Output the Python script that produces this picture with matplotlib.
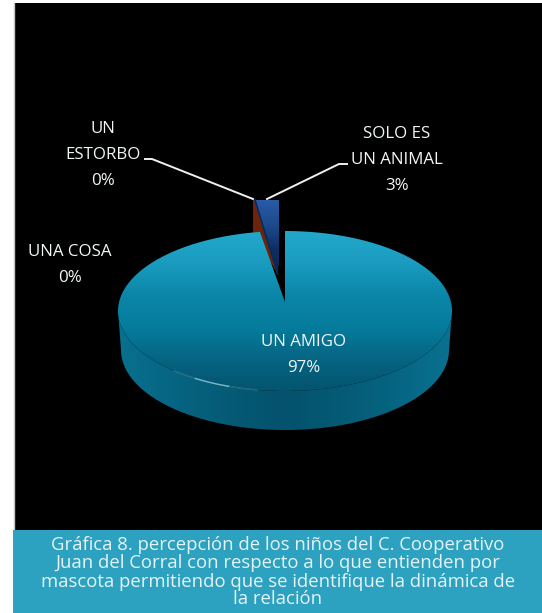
import numpy as np
import matplotlib
matplotlib.use("Agg")
import matplotlib.pyplot as plt
from matplotlib.colors import LinearSegmentedColormap
from matplotlib.patches import Polygon, Rectangle

W, H = 542, 613
FONT = "Open Sans"
FG = "#f2f6f7"
BANNER = "#2ca2c0"

# --- data -------------------------------------------------------------------
categories = ["UN AMIGO", "SOLO ES\nUN ANIMAL", "UN\nESTORBO", "UNA COSA"]
percent_labels = ["97%", "3%", "0%", "0%"]
# share of the circle each slice really takes up in the drawing
amigo_share = 97.6
animal_share = 2.4

caption_lines = [
    "Gráfica 8. percepción de los niños del C. Cooperativo",
    "Juan del Corral con respecto a lo que entienden por",
    "mascota permitiendo que se identifique la dinámica de",
    "la relación",
]

# --- pie geometry, in pixels -------------------------------------------------
CX, CY, RX, RY = 285, 311, 167, 80
APEX_Y = 302
DEPTH = 39
SMALL_APEX = (277.5, 274)   # where the pulled out slices meet
SMALL_TOP = 200


def rim(share_from, share_to, cx=CX, cy=CY, rx=RX, ry=RY, n=400):
    # shares run clockwise from 12 o'clock
    t = np.radians(np.linspace(share_from, share_to, n) * 3.6)
    return np.column_stack([cx + rx * np.sin(t), cy - ry * np.cos(t)])


def ray(apex, share, length=400):
    t = np.radians(share * 3.6)
    return (apex[0] + RX / 167 * length * np.sin(t),
            apex[1] - RY / 167 * length * np.cos(t))


fig = plt.figure(figsize=(W / 100, H / 100), dpi=100, facecolor="white")
ax = fig.add_axes([0, 0, 1, 1])
ax.set_xlim(0, W)
ax.set_ylim(H, 0)
ax.axis("off")

ax.add_patch(Rectangle((14, 3), W - 14, 527, fc="black", ec="none", zorder=1))
ax.plot([13.5, 13.5], [3, 530], color="#c4c4c4", lw=1, zorder=1)
ax.add_patch(Rectangle((13, 530), W - 13, H - 530, fc=BANNER, ec="none", zorder=1))

# side wall: dark middle, a bit lighter towards the two ends
side_cmap = LinearSegmentedColormap.from_list(
    "side", ["#09708e", "#066582", "#055a75", "#04526d", "#055a75", "#066582", "#097290"])
low = rim(25, 75, cy=CY + DEPTH, rx=RX - 3)
up = rim(75, 25)
side_poly = Polygon(np.vstack([up, low]), closed=True, fc="none", ec="none",
                    transform=ax.transData)
ax.add_patch(side_poly)
im = ax.imshow(np.linspace(0, 1, 256)[None, :], cmap=side_cmap, aspect="auto",
               extent=[CX - RX, CX + RX, CY + RY + DEPTH, CY], zorder=2)
im.set_clip_path(side_poly)

# red slice sits behind the blue one, its wall is the flat block on the left
red = Polygon([SMALL_APEX, (253, 232), (253, SMALL_TOP), (258, SMALL_TOP)],
              closed=True, fc="#6e2408", ec="none", zorder=3)
ax.add_patch(red)

# blue slice, gradient from light at the top to navy at the apex
blue_cmap = LinearSegmentedColormap.from_list("blue", ["#2a5aa8", "#1d4a8c", "#0e2f66", "#0a2350"])
blue_left = ray(SMALL_APEX, 100 - animal_share)
slope = (blue_left[0] - SMALL_APEX[0]) / (blue_left[1] - SMALL_APEX[1])
blue_top_x = SMALL_APEX[0] + slope * (SMALL_TOP - SMALL_APEX[1])
blue_poly = Polygon([SMALL_APEX, (blue_top_x, SMALL_TOP), (279, SMALL_TOP), (279, 263)],
                    closed=True, fc="none", ec="none")
ax.add_patch(blue_poly)
im = ax.imshow(np.linspace(0, 1, 128)[:, None], cmap=blue_cmap, aspect="auto",
               extent=[250, 282, SMALL_APEX[1], SMALL_TOP], zorder=4)
im.set_clip_path(blue_poly)
ax.plot([SMALL_APEX[0], blue_top_x + 1], [SMALL_APEX[1], SMALL_TOP], color="#0c2858", lw=1.2, zorder=4)

# main slice, top face
top_cmap = LinearSegmentedColormap.from_list(
    "top", ["#22a8cc", "#1a9cc0", "#0b86a8", "#067c9c", "#056583", "#04546e"])
face = np.vstack([[(CX, APEX_Y)], rim(0, amigo_share)])
top_poly = Polygon(face, closed=True, fc="none", ec="none")
ax.add_patch(top_poly)
im = ax.imshow(np.linspace(0, 1, 256)[:, None], cmap=top_cmap, aspect="auto",
               extent=[CX - RX, CX + RX, CY + RY, CY - RY], zorder=5)
im.set_clip_path(top_poly)

# thin highlight on the front rim, brightest in its middle
for a, b, alpha in [(61.5, 59, 0.25), (59, 55.5, 0.8), (55.5, 52.7, 0.25)]:
    glint = rim(a, b)
    ax.plot(glint[:, 0], glint[:, 1], color="#9ad6e4", lw=1.0, alpha=alpha, zorder=6)

# leader lines
ax.plot([145, 152, 253], [159, 159, 199], color="#f0f0f0", lw=1.4, zorder=7)
ax.plot([267, 339, 347], [199, 164, 164], color="#f0f0f0", lw=1.4, zorder=7)

# data labels
label_font = dict(family=FONT, fontsize=12.2, color=FG, ha="center", va="center", zorder=8)
ax.text(304, 342, categories[0], **label_font)
ax.text(304, 368, percent_labels[0], **label_font)
ax.text(397, 133.5, "SOLO ES", **label_font)
ax.text(397, 159.5, "UN ANIMAL", **label_font)
ax.text(397, 186, percent_labels[1], **label_font)
ax.text(103, 129, "UN", **label_font)
ax.text(103, 155, "ESTORBO", **label_font)
ax.text(103, 181, percent_labels[2], **label_font)
ax.text(70, 252, categories[3], **label_font)
ax.text(70, 278, percent_labels[3], **label_font)

# caption
caption_y = [545, 563, 582, 599]
for line, y in zip(caption_lines, caption_y):
    ax.text(278, y, line, family=FONT, fontsize=13.3, color="#e6f3f6",
            ha="center", va="center", zorder=8)

fig.savefig("out.png", dpi=100, facecolor="white")
